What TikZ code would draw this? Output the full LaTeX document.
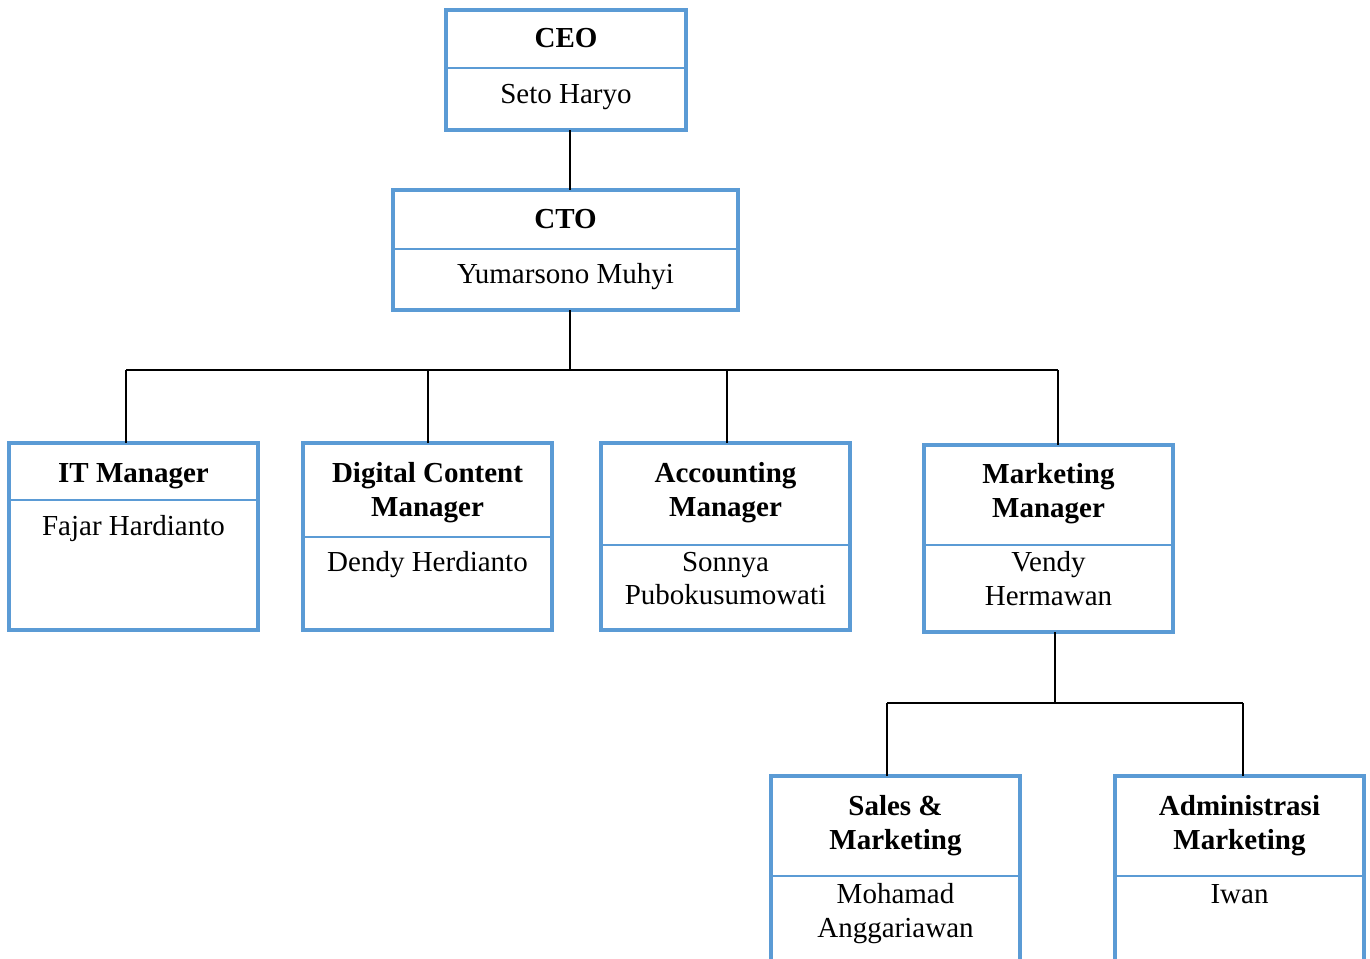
\documentclass[tikz,border=0pt]{standalone}
\usepackage{fontspec}
\setmainfont{Liberation Serif}
\definecolor{boxblue}{RGB}{91,155,213}

% \orgbox{name}{left}{top}{right}{bottom}{divider y}
\newcommand\orgbox[6]{%
  \node[box, minimum width={#4pt-#2pt}, minimum height={#5pt-#3pt}] (#1) at (#2,#3) {};
  \draw[divider] (#1.west |- 0,#6) -- (#1.east |- 0,#6);
}

\begin{document}
\begin{tikzpicture}[x=1pt,y=-1pt,
  box/.style={draw=boxblue, line width=3.2pt, rectangle, inner sep=0pt, outer sep=0pt, anchor=north west},
  divider/.style={draw=boxblue, line width=1.3pt},
  link/.style={draw=black, line width=1.3pt},
  title/.style={font=\fontsize{29}{34}\selectfont\bfseries, anchor=base, inner sep=0pt},
  person/.style={font=\fontsize{29}{34}\selectfont, anchor=base, inner sep=0pt}]

\useasboundingbox (0,0) rectangle (1370,958);
\clip (0,0) rectangle (1370,958);

% boxes
\orgbox{ceo}{446}{10}{686}{130}{68}
\orgbox{cto}{393}{190}{738}{310}{249}
\orgbox{it}{9}{443}{258}{630}{500}
\orgbox{dc}{303}{443}{552}{630}{537}
\orgbox{ac}{601}{443}{850}{630}{545}
\orgbox{mm}{924}{445}{1173}{632}{545}
\orgbox{sm}{771}{776}{1020}{1000}{876}
\orgbox{ad}{1115}{776}{1364}{1000}{876}

% texts
\node[title]  (ceoT)  at (566,48)  {CEO};
\node[person] (ceoP)  at (566,103) {Seto Haryo};
\node[title]  (ctoT)  at (565.5,228) {CTO};
\node[person] (ctoP)  at (565.5,283) {Yumarsono Muhyi};
\node[title]  (itT)   at (133.5,482) {IT Manager};
\node[person] (itP)   at (133.5,535) {Fajar Hardianto};
\node[title]  (dcT1)  at (427.5,482) {Digital Content};
\node[title]  (dcT2)  at (427.5,516) {Manager};
\node[person] (dcP)   at (427.5,571) {Dendy Herdianto};
\node[title]  (acT1)  at (725.5,482) {Accounting};
\node[title]  (acT2)  at (725.5,516) {Manager};
\node[person] (acP1)  at (725.5,571) {Sonnya};
\node[person] (acP2)  at (725.5,604) {Pubokusumowati};
\node[title]  (mmT1)  at (1048.5,483) {Marketing};
\node[title]  (mmT2)  at (1048.5,517) {Manager};
\node[person] (mmP1)  at (1048.5,571) {Vendy};
\node[person] (mmP2)  at (1048.5,605) {Hermawan};
\node[title]  (smT1)  at (895.5,815) {Sales \&};
\node[title]  (smT2)  at (895.5,849) {Marketing};
\node[person] (smP1)  at (895.5,903) {Mohamad};
\node[person] (smP2)  at (895.5,937) {Anggariawan};
\node[title]  (adT1)  at (1239.5,815) {Administrasi};
\node[title]  (adT2)  at (1239.5,849) {Marketing};
\node[person] (adP)   at (1239.5,903) {Iwan};

% connector junctions
\coordinate (top)  at (570,0);
\coordinate (hub)  at (570,370);
\coordinate (jIT)  at (126,370);
\coordinate (jDC)  at (428,370);
\coordinate (jAC)  at (727,370);
\coordinate (jMM)  at (1058,370);
\coordinate (hub2) at (1055,703);
\coordinate (jSM)  at (887,703);
\coordinate (jAD)  at (1243,703);

% connectors
\draw[link] (ceo.south -| top) -- (cto.north -| top);
\draw[link] (cto.south -| hub) -- (hub);
\draw[link] (jIT) -- (jMM);
\draw[link] (jIT) -- (jIT |- it.north);
\draw[link] (jDC) -- (jDC |- dc.north);
\draw[link] (jAC) -- (jAC |- ac.north);
\draw[link] (jMM) -- (jMM |- mm.north);
\draw[link] (mm.south -| hub2) -- (hub2);
\draw[link] (jSM) -- (jAD);
\draw[link] (jSM) -- (jSM |- sm.north);
\draw[link] (jAD) -- (jAD |- ad.north);
\end{tikzpicture}
\end{document}
